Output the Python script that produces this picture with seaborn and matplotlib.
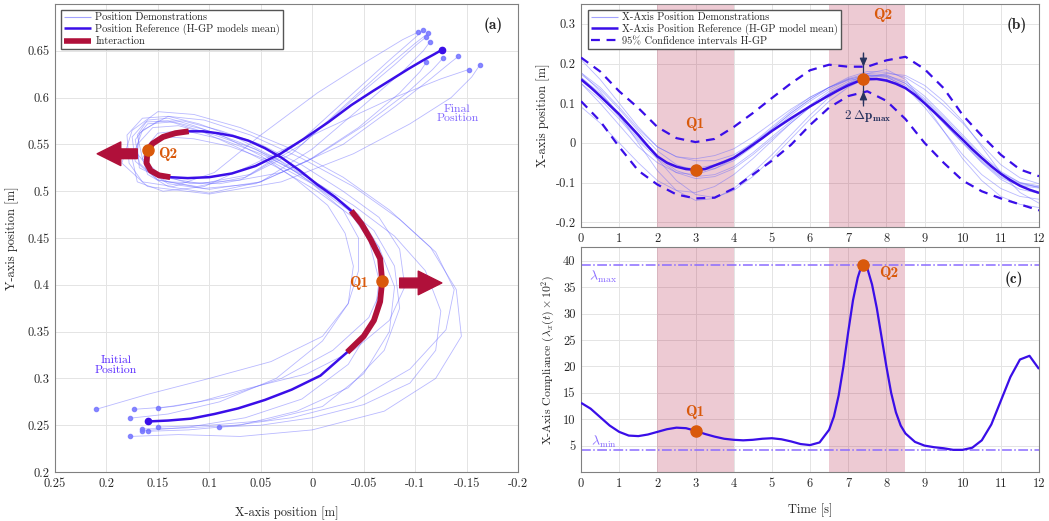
import matplotlib
matplotlib.use('Agg')
import matplotlib.pyplot as plt
from matplotlib.lines import Line2D
from matplotlib.ticker import FuncFormatter
import numpy as np
import seaborn as sns

# time base of the H-GP mean (7.4 s is the Q2 instant)
time = [0.0, 0.25, 0.5, 0.75, 1.0, 1.25, 1.5, 1.75, 2.0, 2.25, 2.5, 2.75, 3.0, 3.25, 3.5, 3.75,
        4.0, 4.25, 4.5, 4.75, 5.0, 5.25, 5.5, 5.75, 6.0, 6.25, 6.5, 6.75, 7.0, 7.25, 7.4, 7.75,
        8.0, 8.25, 8.5, 8.75, 9.0, 9.25, 9.5, 9.75, 10.0, 10.25, 10.5, 10.75, 11.0, 11.25, 11.5, 11.75, 12.0]
mean_x = [0.160, 0.140, 0.118, 0.095, 0.072, 0.046, 0.020, -0.008, -0.034, -0.050, -0.060, -0.066, -0.068,
          -0.066, -0.057, -0.048, -0.038, -0.022, -0.005, 0.012, 0.030, 0.046, 0.062, 0.077, 0.092, 0.106,
          0.120, 0.133, 0.145, 0.155, 0.160, 0.161, 0.157, 0.149, 0.138, 0.121, 0.100, 0.078, 0.055, 0.031,
          0.008, -0.016, -0.038, -0.059, -0.078, -0.094, -0.108, -0.118, -0.126]
mean_y = [0.254, 0.255, 0.257, 0.262, 0.268, 0.277, 0.288, 0.303, 0.328, 0.345, 0.362, 0.382, 0.404,
          0.428, 0.448, 0.465, 0.479, 0.494, 0.507, 0.522, 0.536, 0.546, 0.554, 0.559, 0.562, 0.564,
          0.564, 0.562, 0.558, 0.551, 0.544, 0.530, 0.522, 0.517, 0.515, 0.514, 0.515, 0.519, 0.527, 0.540,
          0.556, 0.574, 0.592, 0.607, 0.620, 0.631, 0.640, 0.646, 0.651]

# compliance, sampled more finely around the Q2 peak
comp_t = [0.0, 0.25, 0.5, 0.75, 1.0, 1.25, 1.5, 1.75, 2.0, 2.25, 2.5, 2.75, 3.0, 3.25, 3.5, 3.75,
          4.0, 4.25, 4.5, 4.75, 5.0, 5.25, 5.5, 5.75, 6.0, 6.25, 6.5, 6.625, 6.75, 6.875, 7.0, 7.125,
          7.25, 7.325, 7.4, 7.5, 7.625, 7.75, 7.875, 8.0, 8.125, 8.25, 8.375, 8.5, 8.75, 9.0, 9.25,
          9.5, 9.75, 10.0, 10.25, 10.5, 10.75, 11.0, 11.25, 11.5, 11.75, 12.0]
compliance = [13.1, 12.0, 10.4, 8.8, 7.6, 6.9, 6.8, 7.1, 7.6, 8.1, 8.4, 8.3, 7.8, 7.2, 6.7, 6.3,
              6.1, 6.0, 6.1, 6.3, 6.4, 6.2, 5.8, 5.3, 5.1, 5.6, 8.0, 10.5, 14.5, 20.0, 26.5, 32.5,
              36.8, 38.5, 39.2, 38.6, 35.5, 31.0, 25.5, 20.0, 15.0, 11.3, 8.8, 7.3, 5.7, 5.0, 4.7,
              4.5, 4.2, 4.2, 4.6, 6.0, 9.0, 13.5, 18.0, 21.3, 22.0, 19.5]
lambda_max = 39.2
lambda_min = 4.1

# demonstrations, sampled every 0.5 s
demo_t = [0.0, 0.5, 1.0, 1.5, 2.0, 2.5, 3.0, 3.5, 4.0, 4.5, 5.0, 5.5, 6.0, 6.5, 7.0, 7.5,
          8.0, 8.5, 9.0, 9.5, 10.0, 10.5, 11.0, 11.5, 12.0]
demo_x = [
    [0.210, 0.160, 0.100, 0.040, -0.010, -0.035, -0.045, -0.045, -0.030, 0.000, 0.035, 0.075, 0.110, 0.140, 0.165, 0.180, 0.178, 0.165, 0.135, 0.095, 0.050, -0.005, -0.055, -0.088, -0.103],
    [0.173, 0.135, 0.085, 0.030, -0.020, -0.055, -0.070, -0.065, -0.045, -0.010, 0.030, 0.070, 0.105, 0.135, 0.160, 0.172, 0.168, 0.150, 0.112, 0.065, 0.015, -0.035, -0.075, -0.100, -0.108],
    [0.150, 0.110, 0.060, 0.005, -0.040, -0.075, -0.090, -0.085, -0.065, -0.030, 0.010, 0.050, 0.090, 0.125, 0.150, 0.168, 0.170, 0.155, 0.118, 0.070, 0.020, -0.030, -0.072, -0.100, -0.113],
    [0.177, 0.130, 0.070, 0.000, -0.070, -0.120, -0.145, -0.140, -0.115, -0.075, -0.030, 0.020, 0.070, 0.115, 0.150, 0.175, 0.185, 0.160, 0.100, 0.030, -0.040, -0.095, -0.135, -0.155, -0.163],
    [0.165, 0.125, 0.075, 0.020, -0.040, -0.095, -0.130, -0.138, -0.120, -0.085, -0.040, 0.010, 0.060, 0.105, 0.140, 0.165, 0.175, 0.170, 0.145, 0.105, 0.055, -0.010, -0.075, -0.125, -0.152],
    [0.160, 0.120, 0.070, 0.015, -0.035, -0.070, -0.085, -0.080, -0.060, -0.025, 0.015, 0.055, 0.095, 0.130, 0.155, 0.170, 0.168, 0.140, 0.090, 0.030, -0.030, -0.080, -0.115, -0.135, -0.142],
    [0.091, 0.050, 0.000, -0.050, -0.095, -0.120, -0.125, -0.110, -0.080, -0.040, 0.005, 0.050, 0.090, 0.125, 0.150, 0.163, 0.160, 0.140, 0.100, 0.050, 0.000, -0.050, -0.092, -0.117, -0.127],
    [0.177, 0.140, 0.090, 0.035, -0.010, -0.035, -0.040, -0.032, -0.015, 0.015, 0.050, 0.085, 0.115, 0.140, 0.160, 0.170, 0.165, 0.145, 0.108, 0.060, 0.010, -0.040, -0.080, -0.102, -0.111],
    [0.165, 0.120, 0.065, 0.010, -0.035, -0.060, -0.065, -0.055, -0.035, 0.000, 0.040, 0.080, 0.115, 0.140, 0.158, 0.165, 0.160, 0.140, 0.100, 0.050, 0.000, -0.048, -0.088, -0.108, -0.114],
    [0.150, 0.100, 0.045, -0.010, -0.050, -0.075, -0.080, -0.065, -0.040, -0.005, 0.035, 0.075, 0.110, 0.140, 0.162, 0.175, 0.172, 0.150, 0.105, 0.055, 0.005, -0.045, -0.085, -0.105, -0.111],
]
demo_y = [
    [0.267, 0.283, 0.300, 0.318, 0.345, 0.380, 0.415, 0.450, 0.480, 0.508, 0.535, 0.558, 0.572, 0.580, 0.578, 0.560, 0.530, 0.510, 0.505, 0.520, 0.560, 0.605, 0.640, 0.662, 0.670],
    [0.267, 0.270, 0.280, 0.300, 0.330, 0.365, 0.402, 0.440, 0.475, 0.505, 0.532, 0.552, 0.566, 0.574, 0.572, 0.555, 0.530, 0.512, 0.505, 0.515, 0.550, 0.600, 0.640, 0.664, 0.672],
    [0.268, 0.275, 0.290, 0.305, 0.330, 0.362, 0.398, 0.438, 0.472, 0.500, 0.528, 0.550, 0.565, 0.575, 0.575, 0.562, 0.540, 0.520, 0.508, 0.512, 0.540, 0.590, 0.632, 0.658, 0.669],
    [0.238, 0.240, 0.238, 0.245, 0.265, 0.300, 0.345, 0.395, 0.440, 0.480, 0.515, 0.545, 0.568, 0.582, 0.585, 0.565, 0.530, 0.505, 0.497, 0.510, 0.540, 0.572, 0.600, 0.622, 0.635],
    [0.246, 0.247, 0.250, 0.258, 0.275, 0.310, 0.352, 0.395, 0.435, 0.470, 0.505, 0.535, 0.560, 0.576, 0.580, 0.565, 0.535, 0.510, 0.500, 0.505, 0.530, 0.565, 0.598, 0.620, 0.630],
    [0.2435, 0.245, 0.250, 0.265, 0.290, 0.330, 0.375, 0.420, 0.458, 0.490, 0.520, 0.545, 0.560, 0.570, 0.568, 0.550, 0.525, 0.510, 0.508, 0.520, 0.550, 0.590, 0.620, 0.638, 0.644],
    [0.248, 0.250, 0.258, 0.272, 0.295, 0.330, 0.372, 0.415, 0.452, 0.485, 0.515, 0.540, 0.556, 0.565, 0.562, 0.545, 0.522, 0.508, 0.502, 0.510, 0.535, 0.570, 0.605, 0.630, 0.642],
    [0.2575, 0.262, 0.275, 0.300, 0.340, 0.380, 0.420, 0.455, 0.485, 0.512, 0.538, 0.558, 0.570, 0.578, 0.576, 0.560, 0.535, 0.515, 0.508, 0.518, 0.550, 0.598, 0.635, 0.657, 0.665],
    [0.244, 0.248, 0.258, 0.278, 0.315, 0.360, 0.405, 0.448, 0.480, 0.508, 0.532, 0.548, 0.556, 0.558, 0.550, 0.535, 0.518, 0.505, 0.498, 0.510, 0.545, 0.590, 0.628, 0.650, 0.659],
    [0.248, 0.250, 0.255, 0.270, 0.305, 0.350, 0.398, 0.440, 0.472, 0.500, 0.526, 0.548, 0.565, 0.575, 0.574, 0.558, 0.532, 0.512, 0.503, 0.508, 0.532, 0.568, 0.605, 0.628, 0.638],
]
ci_upper = [0.215, 0.180, 0.130, 0.088, 0.040, 0.012, 0.002, 0.010, 0.040, 0.075, 0.113, 0.150, 0.183,
            0.197, 0.192, 0.192, 0.208, 0.217, 0.186, 0.138, 0.070, 0.018, -0.030, -0.067, -0.084]
ci_lower = [0.105, 0.055, -0.010, -0.070, -0.105, -0.130, -0.140, -0.138, -0.115, -0.080, -0.045, -0.005,
            0.045, 0.089, 0.118, 0.130, 0.106, 0.060, 0.000, -0.050, -0.095, -0.122, -0.140, -0.155, -0.170]

interaction = [(2.0, 4.0), (6.5, 8.5)]
q_names = ['Q1', 'Q2']
q_times = [3.0, 7.4]

BLUE = '#3a0ee8'
DEMO = '#6464ff'
RED = '#b0103a'
ORANGE = '#d9590b'
NAVY = '#27335f'
LAMBDA = '#8a6cff'

sns.set_theme(style='whitegrid')
plt.rcParams['font.family'] = ['cmr10', 'DejaVu Serif']
plt.rcParams['mathtext.fontset'] = 'cm'
plt.rcParams['axes.unicode_minus'] = False
plt.rcParams['axes.formatter.use_mathtext'] = True
plt.rcParams['lines.solid_capstyle'] = 'butt'

fig = plt.figure(figsize=(10.49, 5.21), dpi=100)
ax_a = fig.add_axes([0.0524, 0.094, 0.4414, 0.8983])
ax_b = fig.add_axes([0.5539, 0.5643, 0.4366, 0.428])
ax_c = fig.add_axes([0.5539, 0.094, 0.4366, 0.4319])

fmt = FuncFormatter(lambda v, p: f'{round(v, 3) + 0.0:g}')


def style(ax):
    ax.set_facecolor('white')
    ax.grid(True, color='#e4e4e4', lw=0.7)
    for s in ax.spines.values():
        s.set_visible(True)
        s.set_color('#808080')
        s.set_linewidth(0.8)
    ax.tick_params(direction='in', length=3, width=0.6, color='#808080',
                   labelsize=9, labelcolor='#2a2a2a', pad=4)
    ax.xaxis.set_major_formatter(fmt)
    ax.yaxis.set_major_formatter(fmt)


def path(ax, x, y, **kw):
    kw.setdefault('solid_capstyle', 'butt')
    sns.lineplot(x=x, y=y, sort=False, estimator=None, ax=ax, **kw)


def window(lo, hi):
    return [i for i, t in enumerate(time) if lo <= t <= hi]


q_idx = [time.index(t) for t in q_times]
q_cidx = [comp_t.index(t) for t in q_times]

# ---------------- (a) XY trajectory ----------------
for dx, dy in zip(demo_x, demo_y):
    path(ax_a, dx, dy, color=DEMO, lw=0.6, alpha=0.45, zorder=2)
    ax_a.plot([dx[0], dx[-1]], [dy[0], dy[-1]], 'o', color='#7676ff', ms=3, alpha=0.85, zorder=2)
path(ax_a, mean_x, mean_y, color=BLUE, lw=1.8, zorder=3)
ax_a.plot([mean_x[0], mean_x[-1]], [mean_y[0], mean_y[-1]], 'o', color=BLUE, ms=4.5, zorder=3)
for lo, hi in interaction:
    idx = window(lo, hi)
    path(ax_a, [mean_x[i] for i in idx], [mean_y[i] for i in idx], color=RED, lw=4.2, zorder=4)
ax_a.plot([mean_x[i] for i in q_idx], [mean_y[i] for i in q_idx], 'o', color=ORANGE, ms=8, zorder=6)

arrow = dict(arrowstyle='simple,head_length=0.85,head_width=0.85,tail_width=0.35',
             color=RED, mutation_scale=20, shrinkA=0, shrinkB=0)
ax_a.annotate('', xy=(0.209, 0.540), xytext=(0.170, 0.540), arrowprops=arrow, zorder=5)
ax_a.annotate('', xy=(-0.126, 0.402), xytext=(-0.085, 0.402), arrowprops=arrow, zorder=5)
ax_a.text(0.150, 0.540, 'Q2', family='cmb10', fontsize=11, color=ORANGE, va='center', ha='left', zorder=7)
ax_a.text(-0.055, 0.402, 'Q1', family='cmb10', fontsize=11, color=ORANGE, va='center', ha='right', zorder=7)
ax_a.text(-0.141, 0.583, 'Final\nPosition', fontsize=8.5, color='#8066ff', ha='center', va='center',
          linespacing=1.0)
ax_a.text(0.191, 0.314, 'Initial\nPosition', fontsize=8.5, color='#5a2cff', ha='center', va='center',
          linespacing=1.0)
ax_a.text(0.966, 0.955, '(a)', family='cmb10', fontsize=11, transform=ax_a.transAxes, ha='right', va='center')

ax_a.set_xlim(0.25, -0.2)
ax_a.set_ylim(0.2, 0.7)
ax_a.set_xticks(np.round(np.arange(0.25, -0.201, -0.05), 2))
ax_a.set_yticks(np.round(np.arange(0.2, 0.651, 0.05), 2))
style(ax_a)
ax_a.set_xlabel('X-axis position [m]', fontsize=9, labelpad=12)
ax_a.set_ylabel('Y-axis position [m]', fontsize=9, labelpad=6)

leg_a = [Line2D([], [], color=DEMO, lw=0.8, alpha=0.6),
         Line2D([], [], color=BLUE, lw=1.8),
         Line2D([], [], color=RED, lw=4)]
ax_a.legend(leg_a, ['Position Demonstrations', 'Position Reference (H-GP models mean)', 'Interaction'],
            loc='upper left', bbox_to_anchor=(0.013, 0.988), borderaxespad=0, fontsize=7.5,
            fancybox=False, framealpha=1, edgecolor='#555555', borderpad=0.3, labelspacing=0.15,
            handlelength=2.6, handletextpad=0.4)

# ---------------- (b) X position vs time ----------------
for lo, hi in interaction:
    ax_b.axvspan(lo, hi, color=RED, alpha=0.22, lw=0, zorder=1)
for dx in demo_x:
    path(ax_b, demo_t, dx, color=DEMO, lw=0.6, alpha=0.45, zorder=2)
path(ax_b, demo_t, ci_upper, color=BLUE, lw=1.6, linestyle=(0, (4, 3)), zorder=3)
path(ax_b, demo_t, ci_lower, color=BLUE, lw=1.6, linestyle=(0, (4, 3)), zorder=3)
path(ax_b, time, mean_x, color=BLUE, lw=1.8, zorder=4)
ax_b.plot(q_times, [mean_x[i] for i in q_idx], 'o', color=ORANGE, ms=8, zorder=6)
ax_b.text(2.97, 0.047, 'Q1', family='cmb10', fontsize=11, color=ORANGE, ha='center', va='center')
ax_b.text(7.9, 0.323, 'Q2', family='cmb10', fontsize=11, color=ORANGE, ha='center', va='center')

# 2 delta p_max marker
ax_b.plot([7.4, 7.4], [0.230, 0.093], color=NAVY, lw=0.9, zorder=5)
head = dict(arrowstyle='-|>,head_length=0.5,head_width=0.22', color=NAVY, lw=0.9,
            mutation_scale=10, shrinkA=0, shrinkB=0)
ax_b.annotate('', xy=(7.4, 0.192), xytext=(7.4, 0.225), arrowprops=head, zorder=5)
ax_b.annotate('', xy=(7.4, 0.130), xytext=(7.4, 0.098), arrowprops=head, zorder=5)
ax_b.text(7.52, 0.067, r'$\mathbf{2\;\Delta p}_{\mathbf{max}}$', fontsize=9.5, color=NAVY,
          ha='center', va='center')
ax_b.text(0.974, 0.906, '(b)', family='cmb10', fontsize=11, transform=ax_b.transAxes, ha='right', va='center')

ax_b.set_xlim(0, 12)
ax_b.set_ylim(-0.212, 0.35)
ax_b.set_xticks(range(0, 13))
ax_b.set_yticks(np.round(np.arange(-0.2, 0.31, 0.1), 1))
style(ax_b)
ax_b.set_xlabel('')
ax_b.set_ylabel('X-axis position [m]', fontsize=9, labelpad=4)

leg_b = [Line2D([], [], color=DEMO, lw=0.8, alpha=0.6),
         Line2D([], [], color=BLUE, lw=1.8),
         Line2D([], [], color=BLUE, lw=1.6, linestyle=(0, (4, 3)))]
ax_b.legend(leg_b, ['X-Axis Position Demonstrations', 'X-Axis Position Reference (H-GP model mean)',
                    '95% Confidence intervals H-GP'],
            loc='upper left', bbox_to_anchor=(0.015, 0.975), borderaxespad=0, fontsize=7.5,
            fancybox=False, framealpha=1, edgecolor='#555555', borderpad=0.3, labelspacing=0.15,
            handlelength=2.6, handletextpad=0.4)

# ---------------- (c) compliance ----------------
for lo, hi in interaction:
    ax_c.axvspan(lo, hi, color=RED, alpha=0.22, lw=0, zorder=1)
ax_c.axhline(lambda_max, color=LAMBDA, lw=1.1, linestyle='-.', zorder=2)
ax_c.axhline(lambda_min, color=LAMBDA, lw=1.1, linestyle='-.', zorder=2)
path(ax_c, comp_t, compliance, color=BLUE, lw=1.6, zorder=4)
ax_c.plot(q_times, [compliance[i] for i in q_cidx], 'o', color=ORANGE, ms=8, zorder=6)
ax_c.text(2.99, 11.3, 'Q1', family='cmb10', fontsize=11, color=ORANGE, ha='center', va='center')
ax_c.text(8.07, 37.6, 'Q2', family='cmb10', fontsize=11, color=ORANGE, ha='center', va='center')
ax_c.text(0.2, 37.0, r'$\lambda_{\mathrm{max}}$', fontsize=10, color=LAMBDA, ha='left', va='center')
ax_c.text(0.25, 5.7, r'$\lambda_{\mathrm{min}}$', fontsize=10, color=LAMBDA, ha='left', va='center')
ax_c.text(0.965, 0.858, '(c)', family='cmb10', fontsize=11, transform=ax_c.transAxes, ha='right', va='center')

ax_c.set_xlim(0, 12)
ax_c.set_ylim(0, 42.6)
ax_c.set_xticks(range(0, 13))
ax_c.set_yticks(range(5, 41, 5))
style(ax_c)
ax_c.set_xlabel('Time [s]', fontsize=9, labelpad=10)
ax_c.set_ylabel(r'X-Axis Compliance ($\lambda_x(t)\times 10^2$)', fontsize=8.5, labelpad=4)

fig.savefig('out.png', dpi=100)
